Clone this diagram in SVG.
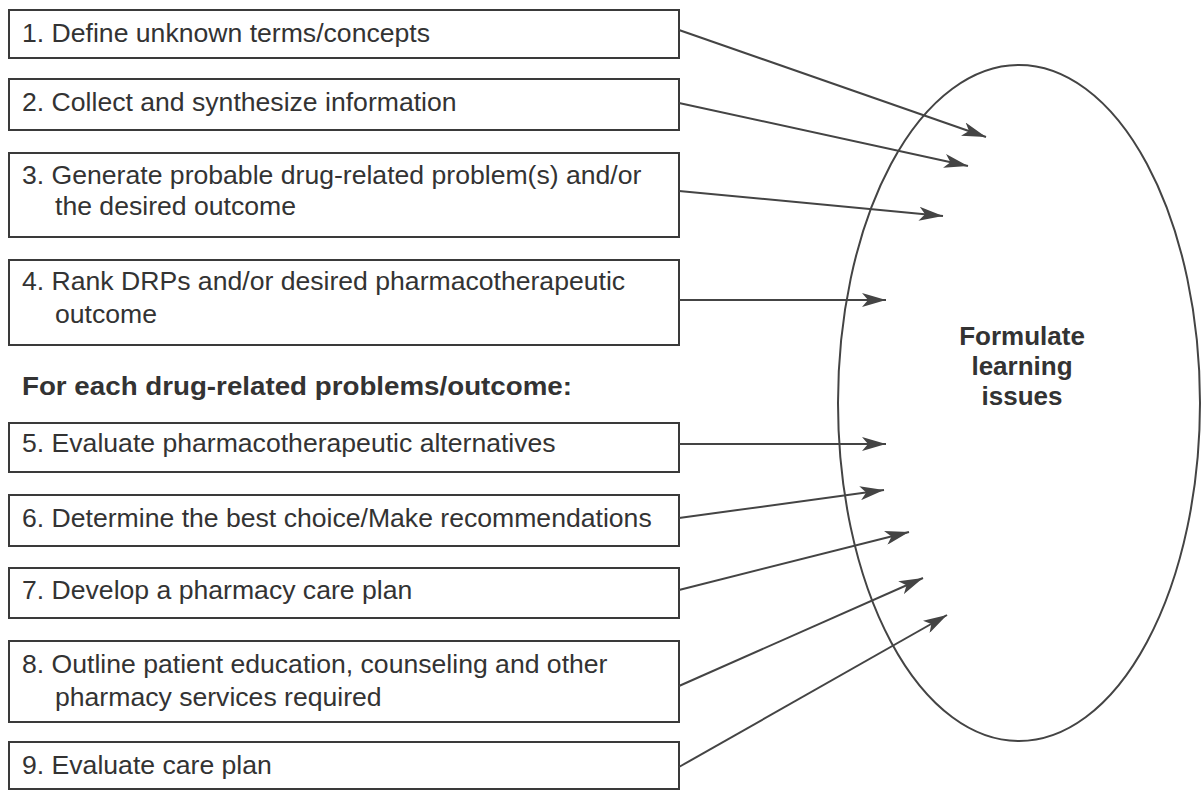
<svg xmlns="http://www.w3.org/2000/svg" width="1201" height="791" viewBox="0 0 1201 791">
<style>
.box{fill:#fff;stroke:#3a3a3a;stroke-width:2}
.t{font-family:"Liberation Sans",Arial,sans-serif;font-size:26.6px;fill:#333}
.h{font-family:"Liberation Sans",Arial,sans-serif;font-size:26px;font-weight:bold;fill:#333}
.c{fill:none;stroke:#444;stroke-width:2}
.e{fill:none;stroke:#444;stroke-width:2}
</style>
<defs>
<marker id="ah" viewBox="0 0 24 14" refX="24" refY="7" markerWidth="24" markerHeight="14" markerUnits="userSpaceOnUse" orient="auto">
<path d="M0,0 L24,7 L0,14 L6,7 Z" fill="#444"/>
</marker>
</defs>
<rect width="1201" height="791" fill="#fff"/>
<g id="ellipse">
<ellipse class="e" cx="1019" cy="403" rx="181" ry="338"/>
<text class="h" x="1022" y="345" text-anchor="middle">Formulate</text>
<text class="h" x="1022" y="375" text-anchor="middle">learning</text>
<text class="h" x="1022" y="405" text-anchor="middle">issues</text>
</g>
<g id="n1"><rect class="box" x="9" y="10" width="670" height="48"/><text class="t" x="22" y="42">1. Define unknown terms/concepts</text></g>
<g id="n2"><rect class="box" x="9" y="79" width="670" height="51"/><text class="t" x="22" y="111">2. Collect and synthesize information</text></g>
<g id="n3"><rect class="box" x="9" y="153" width="670" height="84"/><text class="t" x="22" y="184">3. Generate probable drug-related problem(s) and/or</text><text class="t" x="55" y="215">the desired outcome</text></g>
<g id="n4"><rect class="box" x="9" y="260" width="670" height="85"/><text class="t" x="22" y="290">4. Rank DRPs and/or desired pharmacotherapeutic</text><text class="t" x="55" y="323">outcome</text></g>
<g id="heading"><text class="h" x="22" y="395" textLength="550" lengthAdjust="spacingAndGlyphs">For each drug-related problems/outcome:</text></g>
<g id="n5"><rect class="box" x="9" y="423" width="670" height="49"/><text class="t" x="22" y="452">5. Evaluate pharmacotherapeutic alternatives</text></g>
<g id="n6"><rect class="box" x="9" y="495" width="670" height="51"/><text class="t" x="22" y="527">6. Determine the best choice/Make recommendations</text></g>
<g id="n7"><rect class="box" x="9" y="568" width="670" height="50"/><text class="t" x="22" y="599">7. Develop a pharmacy care plan</text></g>
<g id="n8"><rect class="box" x="9" y="641" width="670" height="81"/><text class="t" x="22" y="673">8. Outline patient education, counseling and other</text><text class="t" x="55" y="706">pharmacy services required</text></g>
<g id="n9"><rect class="box" x="9" y="742" width="670" height="47"/><text class="t" x="22" y="774">9. Evaluate care plan</text></g>
<g id="connectors">
<line class="c" x1="679" y1="30" x2="986" y2="137" marker-end="url(#ah)"/>
<line class="c" x1="679" y1="103" x2="968" y2="166" marker-end="url(#ah)"/>
<line class="c" x1="679" y1="191" x2="943" y2="216" marker-end="url(#ah)"/>
<line class="c" x1="679" y1="300" x2="886" y2="300" marker-end="url(#ah)"/>
<line class="c" x1="679" y1="444" x2="886" y2="444" marker-end="url(#ah)"/>
<line class="c" x1="679" y1="518" x2="884" y2="490" marker-end="url(#ah)"/>
<line class="c" x1="679" y1="590" x2="909" y2="532" marker-end="url(#ah)"/>
<line class="c" x1="679" y1="686" x2="923" y2="578" marker-end="url(#ah)"/>
<line class="c" x1="679" y1="767" x2="947" y2="615" marker-end="url(#ah)"/>
</g>
</svg>
